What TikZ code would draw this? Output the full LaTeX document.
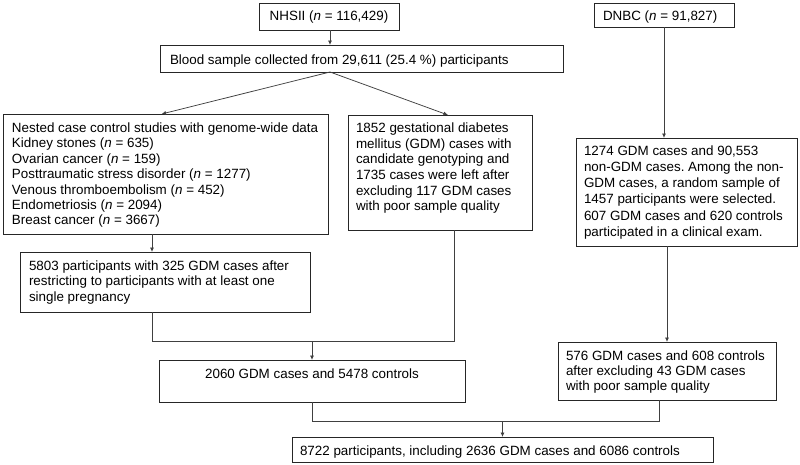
\documentclass[tikz,border=0pt]{standalone}
\usepackage{fontspec}
\setmainfont{Liberation Sans}
\frenchspacing
\usetikzlibrary{arrows.meta,calc}
\newcommand\bx[5]{\parbox[c][#2][t]{#1}{\vspace*{#3}\noindent\hspace*{#4}\begin{tabular}[t]{@{}l@{}}#5\end{tabular}}}
\newcommand\bxc[4]{\parbox[c][#2][t]{#1}{\vspace*{#3}\centering\begin{tabular}[t]{@{}c@{}}#4\end{tabular}\par}}
\newcommand\nn{\textit{n}}
\begin{document}
\begin{tikzpicture}[x=1pt,y=-1pt,
  box/.style={draw=black!85, line width=0.9pt, inner sep=0pt, outer sep=0pt, anchor=north west, font=\fontsize{13.4}{15.5}\selectfont},
  conn/.style={draw=black!75, line width=0.75pt},
  arr/.style={conn, -{Latex[length=4.5pt,width=4pt]}}]
\useasboundingbox[fill=white] (0,0) rectangle (800,464);

\node[box] (nhs) at (259,3) {\bxc{140pt}{27pt}{6.2pt}{NHSII (\nn{} = 116,429)}};
\node[box] (dnbc) at (594,3) {\bx{140pt}{24pt}{6.2pt}{9pt}{DNBC (\nn{} = 91,827)}};
\node[box] (blood) at (160,45) {\bx{403pt}{27pt}{8.2pt}{10pt}{Blood sample collected from 29,611 (25.4 \%) participants}};
\node[box, font=\fontsize{13.4}{15.4}\selectfont] (nested) at (3,114) {\bx{325pt}{120pt}{7.7pt}{9pt}{Nested case control studies with genome-wide data\\
Kidney stones (\nn{} = 635)\\
Ovarian cancer (\nn{} = 159)\\
Posttraumatic stress disorder (\nn{} = 1277)\\
Venous thromboembolism (\nn{} = 452)\\
Endometriosis (\nn{} = 2094)\\
Breast cancer (\nn{} = 3667)}};
\node[box, font=\fontsize{13.4}{15.7}\selectfont] (gdm) at (348,115) {\bx{184pt}{115pt}{6.5pt}{8pt}{1852 gestational diabetes\\
mellitus (GDM) cases with\\
candidate genotyping and\\
1735 cases were left after\\
excluding 117 GDM cases\\
with poor sample quality}};
\node[box, font=\fontsize{13.4}{16.3}\selectfont] (dk) at (576,138) {\bx{221pt}{108pt}{5.6pt}{8pt}{1274 GDM cases and 90,553\\
non-GDM cases. Among the non-\\
GDM cases, a random sample of\\
1457 participants were selected.\\
607 GDM cases and 620 controls\\
participated in a clinical exam.}};
\node[box] (restr) at (20,252) {\bx{290pt}{60pt}{7.2pt}{9pt}{5803 participants with 325 GDM cases after\\
restricting to participants with at least one\\
single pregnancy}};
\node[box] (us) at (159,360) {\bxc{306pt}{42pt}{7.2pt}{2060 GDM cases and 5478 controls}};
\node[box, font=\fontsize{13.4}{15}\selectfont] (dkq) at (558,342) {\bx{218pt}{58pt}{8pt}{8pt}{576 GDM cases and 608 controls\\
after excluding 43 GDM cases\\
with poor sample quality}};
\node[box] (all) at (292,437) {\bx{421pt}{25pt}{7.7pt}{8pt}{8722 participants, including 2636 GDM cases and 6086 controls}};

\coordinate (j1) at (152,341);
\coordinate (j2) at (454,341);
\coordinate (k1) at (312,421);
\coordinate (k2) at (659,421);

\draw[arr] ([xshift=1pt]nhs.south) -- ([xshift=1pt]nhs.south |- blood.north);
\draw[arr] ([xshift=1pt]nhs.south |- blood.south) -- ([xshift=-4pt]nested.north);
\draw[arr] ([xshift=1pt]nhs.south |- blood.south) -- ([xshift=8pt]gdm.north);
\draw[arr] (dnbc.south) -- (dnbc.south |- dk.north);
\draw[arr] (nested.south -| j1) -- (restr.north -| j1);
\draw[conn] (restr.south -| j1) -- (j1) -- (j2) -- (gdm.south -| j2);
\draw[arr] (us.north |- j1) -- (us.north);
\draw[arr] (dkq.north |- dk.south) -- (dkq.north);
\draw[conn] (us.south) -- (k1) -- (k2) -- (dkq.south -| k2);
\draw[arr] (all.north |- k1) -- (all.north);
\end{tikzpicture}
\end{document}
